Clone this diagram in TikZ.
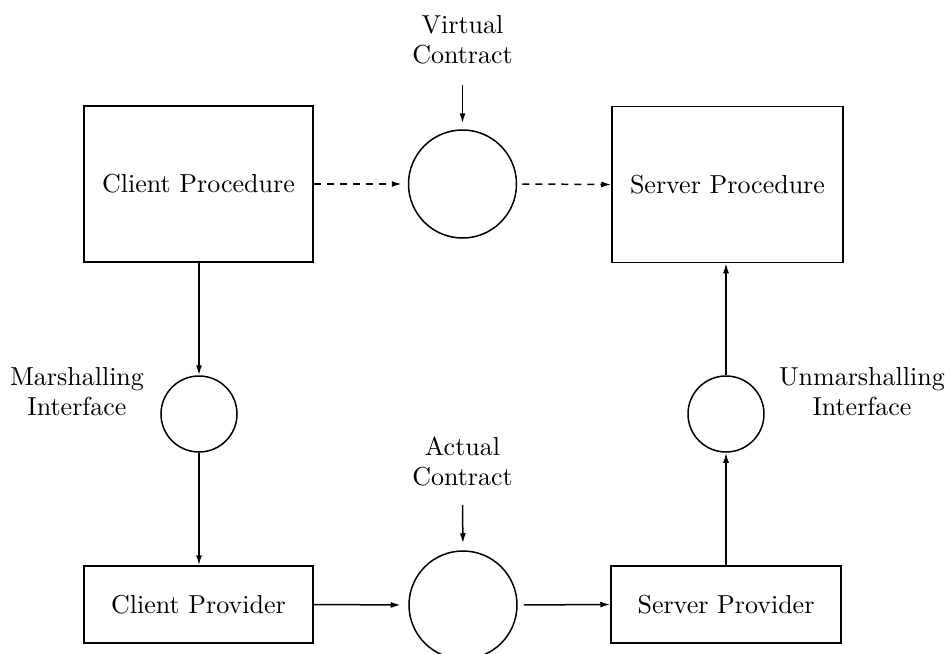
\documentclass[tikz,border=0pt]{standalone}
\usetikzlibrary{arrows.meta}
\begin{document}
\begin{tikzpicture}[x=0.4pt,y=-0.4pt,
  every node/.style={font=\fontsize{10.4}{12}\selectfont},
  box/.style={draw,line width=0.6pt,rectangle,inner sep=0pt},
  bigc/.style={draw,line width=0.6pt,circle,inner sep=0pt,minimum size=43.2pt},
  smallc/.style={draw,line width=0.6pt,circle,inner sep=0pt,minimum size=30.4pt},
  lbl/.style={align=center,inner sep=0pt},
  conn/.style={line width=0.6pt,-{Latex[length=4pt,width=2.4pt]}},
  dconn/.style={conn,dash pattern=on 2.8pt off 2.4pt}]
\useasboundingbox (0,0) rectangle (948,654);
\node[box,minimum width=91.6pt,minimum height=62.4pt] (cp) at (198.5,184) {Client Procedure};
\node[box,minimum width=92.4pt,minimum height=62.4pt] (sp) at (727.5,184.5) {Server Procedure};
\node[bigc] (vc) at (462.5,184) {};
\node[lbl] (vcl) at (462.5,40) {Virtual\\Contract};
\coordinate (vcs) at (462.5,85);
\node[smallc] (m) at (199,414) {};
\node[smallc] (um) at (726,414) {};
\node[lbl] (ml) at (77,392) {Marshalling\\Interface};
\node[lbl] (uml) at (862,392) {Unmarshalling\\Interface};
\node[box,minimum width=91.6pt,minimum height=30.8pt] (clp) at (198.5,604.5) {Client Provider};
\node[box,minimum width=92pt,minimum height=30.8pt] (slp) at (726,604.5) {Server Provider};
\node[bigc] (ac) at (463,605) {};
\node[lbl] (acl) at (462.5,461) {Actual\\Contract};
\coordinate (acs) at (462.5,505);

\draw[conn,shorten >=2.4pt] (vcs) -- (vc.north);
\draw[dconn,shorten >=2.4pt] (cp.east) -- (vc.west);
\draw[dconn,shorten <=2pt] (vc.east) -- (sp.west);
\draw[conn] (cp.south -| m.north) -- (m.north);
\draw[conn] (m.south) -- (clp.north -| m.south);
\draw[conn] (slp.north -| um.south) -- (um.south);
\draw[conn] (um.north) -- (sp.south -| um.north);
\draw[conn,shorten >=2.8pt] (acs) -- (ac.north);
\draw[conn,shorten >=3pt] (clp.east) -- (ac.west);
\draw[conn,shorten <=2.4pt] (ac.east) -- (slp.west);
\end{tikzpicture}
\end{document}
